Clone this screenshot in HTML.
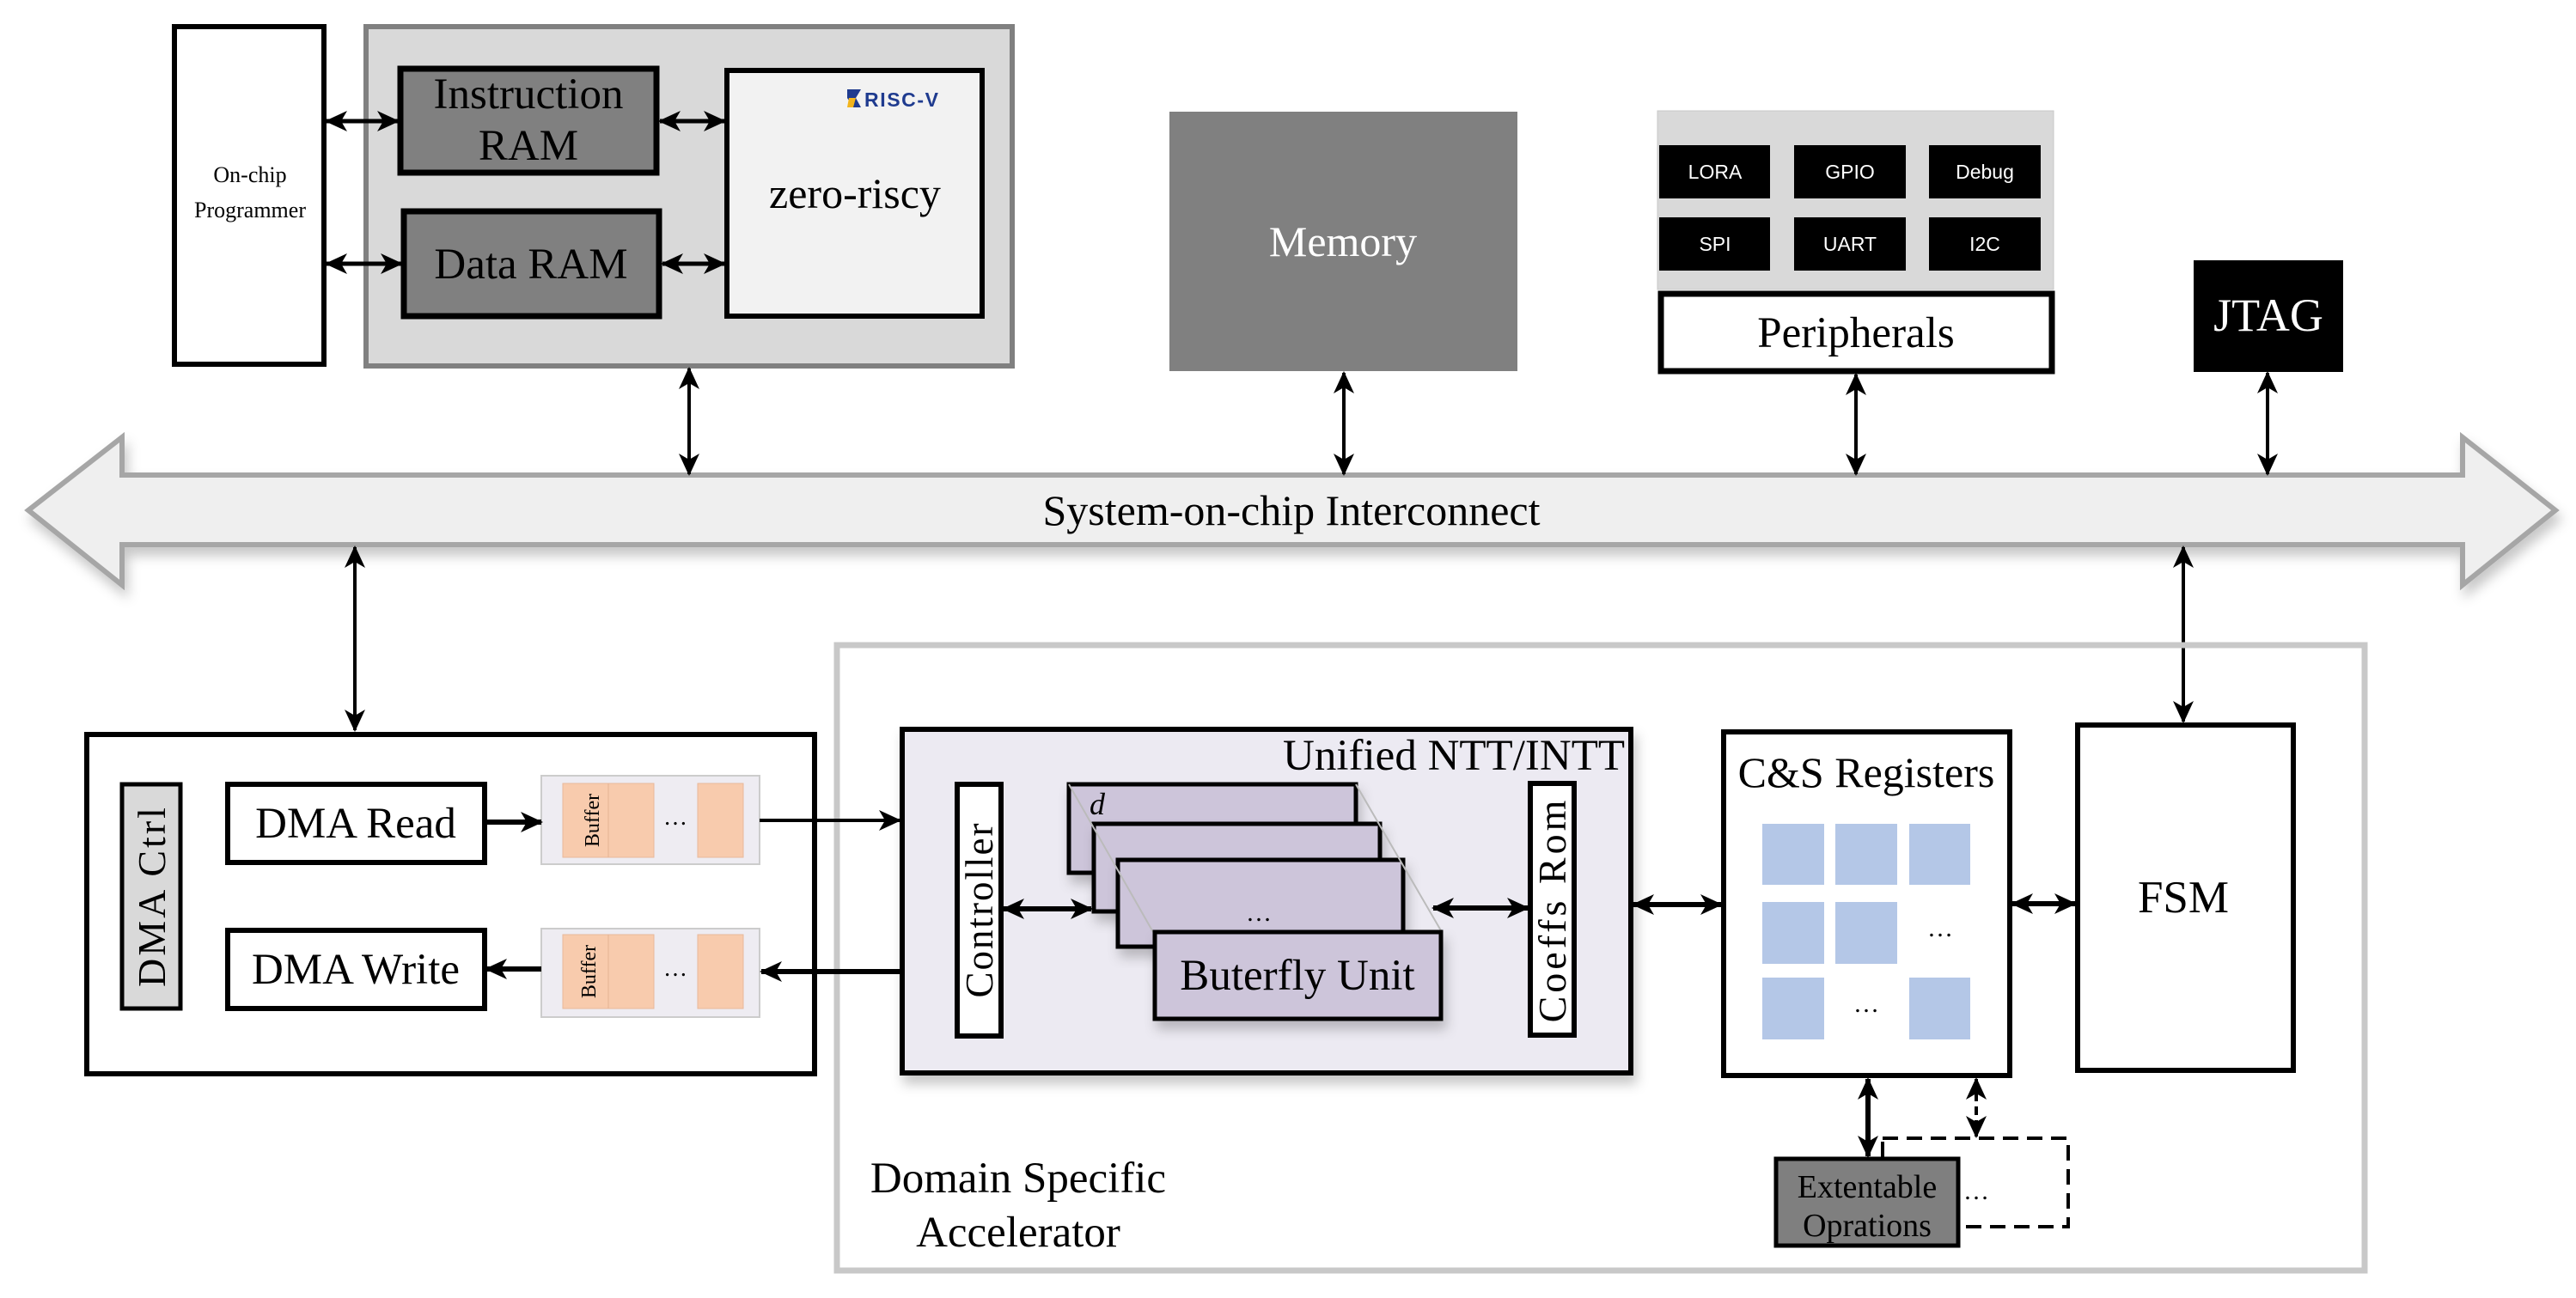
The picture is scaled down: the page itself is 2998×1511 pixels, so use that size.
<!DOCTYPE html>
<html><head><meta charset="utf-8"><style>
html,body{margin:0;padding:0;background:#fff;}
svg{display:block;font-family:"Liberation Serif",serif;}
</style></head><body>
<svg width="2998" height="1511" viewBox="0 0 2998 1511" xmlns="http://www.w3.org/2000/svg">
<defs>
<marker id="ah" markerUnits="userSpaceOnUse" markerWidth="26" markerHeight="24" refX="24" refY="12" orient="auto-start-reverse">
<path d="M0,0 L26,12 L0,24 L7,12 z" fill="#000"/></marker>
<filter id="sh" x="-5%" y="-5%" width="115%" height="130%"><feDropShadow dx="4" dy="10" stdDeviation="7" flood-color="#000" flood-opacity="0.22"/></filter>
</defs>

<!-- Bus -->
<path d="M33,594 L142,509 L142,553 L2866,553 L2866,509 L2974,594 L2866,681 L2866,634 L142,634 L142,681 Z" fill="#efefef" stroke="#a6a6a6" stroke-width="6" filter="url(#sh)"/>
<text x="1503" y="611" font-size="50" text-anchor="middle">System-on-chip Interconnect</text>

<!-- On-chip programmer -->
<rect x="203" y="31" width="174" height="393" fill="#fff" stroke="#000" stroke-width="6"/>
<text x="291" y="212" font-size="26" text-anchor="middle">On-chip</text>
<text x="291" y="253" font-size="26" text-anchor="middle">Programmer</text>

<!-- CPU group -->
<rect x="426" y="31" width="752" height="395" fill="#d9d9d9" stroke="#808080" stroke-width="6"/>
<rect x="466" y="80" width="298" height="121" fill="#808080" stroke="#000" stroke-width="7"/>
<text x="615" y="126" font-size="51" text-anchor="middle">Instruction</text>
<text x="615" y="186" font-size="51" text-anchor="middle">RAM</text>
<rect x="470" y="246" width="297" height="122" fill="#808080" stroke="#000" stroke-width="7"/>
<text x="618" y="324" font-size="51" text-anchor="middle">Data RAM</text>
<rect x="846" y="82" width="297" height="286" fill="#f2f2f2" stroke="#000" stroke-width="6"/>
<text x="995" y="242" font-size="50" text-anchor="middle">zero-riscy</text>
<g>
<path d="M986,104 L1002,104 L996,114 L1002,125 L993,125 L986,114 Z" fill="#1f3b8f"/>
<path d="M988,114 L996,114 L993,125 L986,125 Z" fill="#f2b41c"/>
<text x="1006" y="124" font-family="'Liberation Sans',sans-serif" font-weight="bold" font-size="23" fill="#1f3b8f" textLength="86">RISC-V</text>
</g>

<!-- Memory -->
<rect x="1361" y="130" width="405" height="302" fill="#808080"/>
<text x="1563" y="298" font-size="50" fill="#fff" text-anchor="middle">Memory</text>

<!-- Peripherals -->
<rect x="1929" y="129" width="461" height="208" fill="#d9d9d9" stroke="#c8c8c8" stroke-width="1"/>
<g fill="#000">
<rect x="1931" y="169" width="129" height="62"/><rect x="2088" y="169" width="130" height="62"/><rect x="2245" y="169" width="130" height="62"/>
<rect x="1931" y="253" width="129" height="62"/><rect x="2088" y="253" width="130" height="62"/><rect x="2245" y="253" width="130" height="62"/>
</g>
<g font-family="'Liberation Sans',sans-serif" font-size="23" fill="#fff" text-anchor="middle">
<text x="1996" y="208">LORA</text><text x="2153" y="208">GPIO</text><text x="2310" y="208">Debug</text>
<text x="1996" y="292">SPI</text><text x="2153" y="292">UART</text><text x="2310" y="292">I2C</text>
</g>
<rect x="1933" y="342" width="455" height="90" fill="#fff" stroke="#000" stroke-width="7"/>
<text x="2160" y="404" font-size="51" text-anchor="middle">Peripherals</text>

<!-- JTAG -->
<rect x="2553" y="303" width="174" height="130" fill="#000"/>
<text x="2640" y="385" font-size="54" fill="#fff" text-anchor="middle">JTAG</text>

<!-- top arrows -->
<g stroke="#000" stroke-width="5" fill="none">
<line x1="380" y1="141" x2="463" y2="141" marker-start="url(#ah)" marker-end="url(#ah)"/>
<line x1="380" y1="307" x2="467" y2="307" marker-start="url(#ah)" marker-end="url(#ah)"/>
<line x1="768" y1="141" x2="843" y2="141" marker-start="url(#ah)" marker-end="url(#ah)"/>
<line x1="771" y1="307" x2="843" y2="307" marker-start="url(#ah)" marker-end="url(#ah)"/>
<line x1="802" y1="429" x2="802" y2="552" stroke-width="4" marker-start="url(#ah)" marker-end="url(#ah)"/>
<line x1="1564" y1="434" x2="1564" y2="552" stroke-width="4" marker-start="url(#ah)" marker-end="url(#ah)"/>
<line x1="2160" y1="436" x2="2160" y2="552" stroke-width="4" marker-start="url(#ah)" marker-end="url(#ah)"/>
<line x1="2639" y1="434" x2="2639" y2="552" stroke-width="4" marker-start="url(#ah)" marker-end="url(#ah)"/>
<line x1="413" y1="637" x2="413" y2="850" stroke-width="4" marker-start="url(#ah)" marker-end="url(#ah)"/>
<line x1="2541" y1="637" x2="2541" y2="840" stroke-width="4" marker-start="url(#ah)" marker-end="url(#ah)"/>
</g>

<!-- DSA outer -->
<rect x="974" y="751" width="1778" height="728" fill="none" stroke="#c8c8c8" stroke-width="7"/>
<text x="1185" y="1388" font-size="51" text-anchor="middle">Domain Specific</text>
<text x="1185" y="1451" font-size="51" text-anchor="middle">Accelerator</text>

<!-- DMA -->
<rect x="101" y="855" width="847" height="395" fill="#fff" stroke="#000" stroke-width="6"/>
<rect x="142" y="913" width="68" height="261" fill="#d9d9d9" stroke="#000" stroke-width="5"/>
<text transform="translate(192,1043) rotate(-90)" font-size="46" text-anchor="middle" letter-spacing="3">DMA Ctrl</text>
<rect x="265" y="913" width="299" height="91" fill="#fff" stroke="#000" stroke-width="6"/>
<text x="414" y="975" font-size="51" text-anchor="middle">DMA Read</text>
<rect x="265" y="1083" width="299" height="91" fill="#fff" stroke="#000" stroke-width="6"/>
<text x="414" y="1145" font-size="51" text-anchor="middle">DMA Write</text>

<g>
<rect x="630" y="903" width="254" height="103" fill="#eeecf2" stroke="#ccc" stroke-width="2"/>
<rect x="655" y="912" width="106" height="86" fill="#f8cbad" stroke="#e8b89a" stroke-width="1"/>
<line x1="708" y1="912" x2="708" y2="998" stroke="#e3b394" stroke-width="1"/>
<rect x="812" y="912" width="53" height="86" fill="#f8cbad" stroke="#e8b89a" stroke-width="1"/>
<text transform="translate(697,955) rotate(-90)" font-size="24" text-anchor="middle">Buffer</text>
<text x="786" y="960" font-size="28" text-anchor="middle">…</text>
<rect x="630" y="1081" width="254" height="103" fill="#eeecf2" stroke="#ccc" stroke-width="2"/>
<rect x="655" y="1088" width="106" height="86" fill="#f8cbad" stroke="#e8b89a" stroke-width="1"/>
<line x1="708" y1="1088" x2="708" y2="1174" stroke="#e3b394" stroke-width="1"/>
<rect x="812" y="1088" width="53" height="86" fill="#f8cbad" stroke="#e8b89a" stroke-width="1"/>
<text transform="translate(693,1131) rotate(-90)" font-size="24" text-anchor="middle">Buffer</text>
<text x="786" y="1136" font-size="28" text-anchor="middle">…</text>
</g>

<!-- NTT -->
<rect x="1050" y="849" width="848" height="400" fill="#eceaf2" stroke="#000" stroke-width="6" filter="url(#sh)"/>
<text x="1891" y="896" font-size="51" text-anchor="end">Unified NTT/INTT</text>
<rect x="1114" y="913" width="51" height="293" fill="#fff" stroke="#000" stroke-width="6"/>
<text transform="translate(1155,1059) rotate(-90)" font-size="45" text-anchor="middle" letter-spacing="2">Controller</text>
<rect x="1781" y="912" width="51" height="293" fill="#fff" stroke="#000" stroke-width="6"/>
<text transform="translate(1822,1059) rotate(-90)" font-size="46" text-anchor="middle" letter-spacing="4">Coeffs Rom</text>

<rect x="1244" y="913" width="334" height="103" fill="#cdc5da" stroke="#000" stroke-width="5" filter="url(#sh)"/>
<text x="1268" y="948" font-size="36" font-style="italic">d</text>
<rect x="1273" y="959" width="333" height="102" fill="#cdc5da" stroke="#000" stroke-width="5" filter="url(#sh)"/>
<rect x="1301" y="1001" width="332" height="101" fill="#cdc5da" stroke="#000" stroke-width="5" filter="url(#sh)"/>
<text x="1465" y="1072" font-size="30" text-anchor="middle">…</text>
<line x1="1244" y1="913" x2="1342" y2="1085" stroke="#bbb" stroke-width="2"/>
<line x1="1578" y1="913" x2="1678" y2="1085" stroke="#bbb" stroke-width="2"/>
<rect x="1344" y="1085" width="333" height="101" fill="#cdc5da" stroke="#000" stroke-width="5" filter="url(#sh)"/>
<text x="1510" y="1152" font-size="51" text-anchor="middle">Buterfly Unit</text>

<!-- C&S -->
<rect x="2006" y="852" width="333" height="400" fill="#fff" stroke="#000" stroke-width="6"/>
<text x="2172" y="916" font-size="50" text-anchor="middle">C&amp;S Registers</text>
<g fill="#b4c7e7">
<rect x="2051" y="959" width="72" height="71"/><rect x="2136" y="959" width="72" height="71"/><rect x="2222" y="959" width="71" height="71"/>
<rect x="2051" y="1050" width="72" height="72"/><rect x="2136" y="1050" width="72" height="72"/>
<rect x="2051" y="1138" width="72" height="72"/><rect x="2222" y="1138" width="71" height="72"/>
</g>
<text x="2258" y="1090" font-size="30" text-anchor="middle">…</text>
<text x="2172" y="1178" font-size="30" text-anchor="middle">…</text>

<!-- FSM -->
<rect x="2418" y="844" width="251" height="402" fill="#fff" stroke="#000" stroke-width="6"/>
<text x="2541" y="1062" font-size="53" text-anchor="middle">FSM</text>

<!-- Ext ops -->
<rect x="2191" y="1325" width="216" height="103" fill="none" stroke="#000" stroke-width="4" stroke-dasharray="18,10"/>
<rect x="2067" y="1349" width="212" height="101" fill="#7f7f7f" stroke="#000" stroke-width="5"/>
<text x="2173" y="1394" font-size="38" text-anchor="middle">Extentable</text>
<text x="2173" y="1439" font-size="38" text-anchor="middle">Oprations</text>
<text x="2300" y="1396" font-size="30" text-anchor="middle">…</text>

<!-- bottom arrows -->
<g stroke="#000" stroke-width="6" fill="none">
<line x1="565" y1="957" x2="630" y2="957" marker-end="url(#ah)"/>
<line x1="884" y1="955" x2="1047" y2="955" stroke-width="4" marker-end="url(#ah)"/>
<line x1="1047" y1="1131" x2="886" y2="1131" marker-end="url(#ah)"/>
<line x1="630" y1="1128" x2="566" y2="1128" marker-end="url(#ah)"/>
<line x1="1168" y1="1058" x2="1270" y2="1058" marker-start="url(#ah)" marker-end="url(#ah)"/>
<line x1="1668" y1="1057" x2="1778" y2="1057" marker-start="url(#ah)" marker-end="url(#ah)"/>
<line x1="1901" y1="1053" x2="2003" y2="1053" marker-start="url(#ah)" marker-end="url(#ah)"/>
<line x1="2342" y1="1052" x2="2415" y2="1052" marker-start="url(#ah)" marker-end="url(#ah)"/>
<line x1="2174" y1="1256" x2="2174" y2="1346" marker-start="url(#ah)" marker-end="url(#ah)"/>
<line x1="2300" y1="1256" x2="2300" y2="1323" stroke-width="4" stroke-dasharray="10,6" marker-start="url(#ah)" marker-end="url(#ah)"/>
</g>
</svg>
</body></html>
